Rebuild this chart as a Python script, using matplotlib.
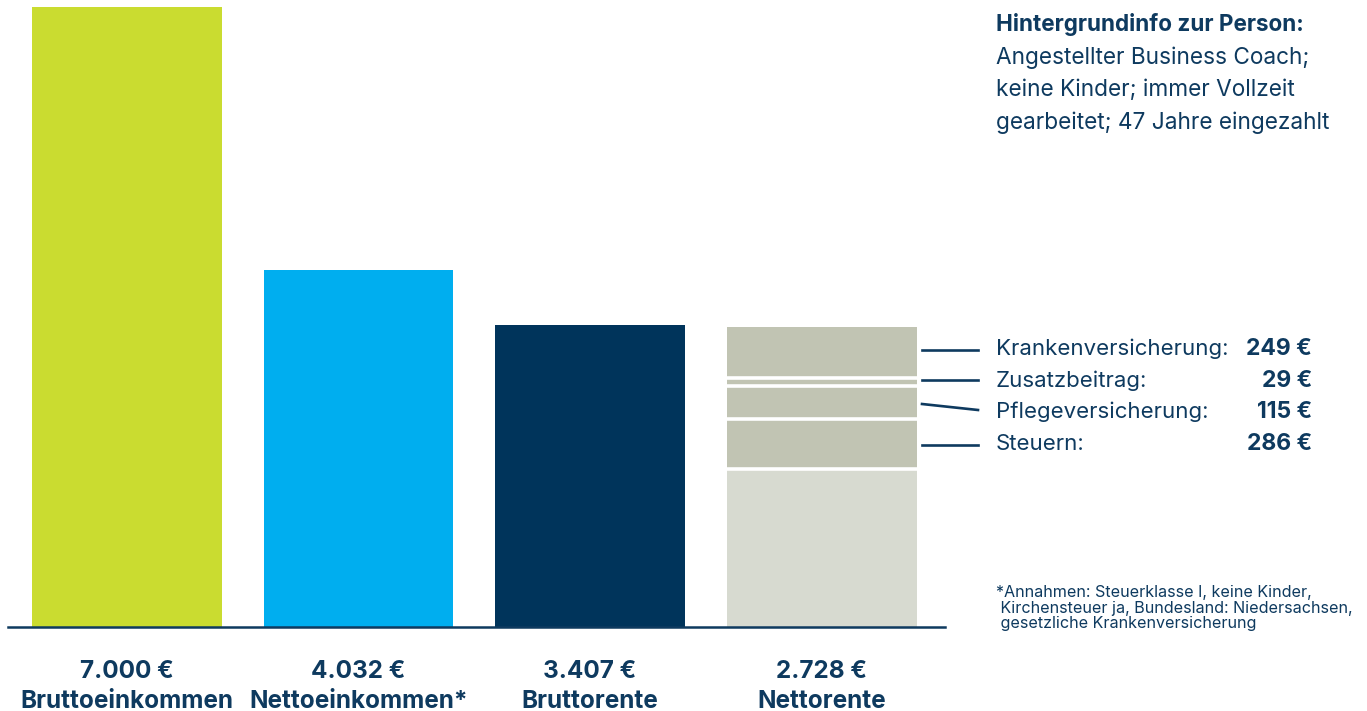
import matplotlib
matplotlib.use("Agg")
import matplotlib.pyplot as plt
import numpy as np

plt.rcParams['font.family'] = ['Inter', 'DejaVu Sans']

# ---- data ----
categories = ["Bruttoeinkommen", "Nettoeinkommen*", "Bruttorente", "Nettorente"]
values = [7000, 4032, 3407, 2728]
value_labels = ["7.000 €", "4.032 €", "3.407 €", "2.728 €"]

# Deductions from Bruttorente to Nettorente (labels on the right)
deduction_names = ["Krankenversicherung:", "Zusatzbeitrag:", "Pflegeversicherung:", "Steuern:"]
deduction_values = ["249 €", "29 €", "115 €", "286 €"]

# Visual stack of the last bar as drawn in the picture (bottom -> top, € scale)
stack_names = ["Nettorente", "Steuern", "Pflegeversicherung", "Zusatzbeitrag", "Krankenversicherung"]
stack_heights = [1782, 567, 373, 88, 575]

info_title = "Hintergrundinfo zur Person:"
info_lines = ["Angestellter Business Coach;", "keine Kinder; immer Vollzeit", "gearbeitet; 47 Jahre eingezahlt"]
footnote_lines = ["*Annahmen: Steuerklasse I, keine Kinder,",
                  " Kirchensteuer ja, Bundesland: Niedersachsen,",
                  " gesetzliche Krankenversicherung"]

# ---- styles ----
NAVY = "#0E3A5F"
bar_colors = ["#CADC30", "#00AEEF", "#00345B"]
netto_color = "#D7DAD0"
deduct_color = "#C1C4B3"

W, H = 1367, 711
fig = plt.figure(figsize=(W / 100, H / 100), dpi=100)

def fx(px):
    return px / W

def fy(py):
    return 1 - py / H

# axes: x from 8px to 945px, y baseline at 627px, 7000 at 7px
ax = fig.add_axes([fx(8), fy(627), fx(945) - fx(8), (627 - 7) / H])
ax.set_xlim(-0.514, 3.533)
ax.set_ylim(0, 7000)
bar_w = 0.82

x = np.arange(len(categories))
ax.bar(x[:3], values[:3], width=bar_w, color=bar_colors, zorder=2)

bottom = 0
seg_colors = [netto_color] + [deduct_color] * 4
for h, c in zip(stack_heights, seg_colors):
    ax.bar(x[3], h, bottom=bottom, width=bar_w, color=c, zorder=2)
    bottom += h
# white separators between stacked segments
bounds = np.cumsum(stack_heights)[:-1]
ax.hlines(bounds, x[3] - bar_w / 2 - 0.01, x[3] + bar_w / 2 + 0.01,
          colors="white", linewidth=2.6, zorder=3)

for s in ["top", "right", "left"]:
    ax.spines[s].set_visible(False)
ax.spines["bottom"].set_color(NAVY)
ax.spines["bottom"].set_linewidth(1.8)
ax.spines["bottom"].set_zorder(4)
ax.set_xticks([])
ax.set_yticks([])
ax.patch.set_alpha(0)

# labels below bars
for i, (vl, cat) in enumerate(zip(value_labels, categories)):
    xpix = ax.transData.transform((x[i], 0))[0]
    fig.text(xpix / W, fy(672), vl, ha="center", va="center", fontsize=17.5,
             fontweight="bold", color=NAVY)
    fig.text(xpix / W, fy(702), cat, ha="center", va="center", fontsize=17.5,
             fontweight="bold", color=NAVY)

# info block
fig.text(fx(996), fy(25), info_title, ha="left", va="center", fontsize=16.2,
         fontweight="bold", color=NAVY)
for i, line in enumerate(info_lines):
    fig.text(fx(996), fy(58 + i * 32.3), line, ha="left", va="center",
             fontsize=16.3, color=NAVY)

# deductions legend
label_y = [349, 381, 412, 444]
line_y = [(350, 350), (380, 380), (404, 410), (445, 445)]
for name, val, ly, (y0, y1) in zip(deduction_names, deduction_values, label_y, line_y):
    fig.text(fx(996), fy(ly), name, ha="left", va="center", fontsize=16, color=NAVY)
    fig.text(fx(1312), fy(ly), val, ha="right", va="center", fontsize=16.5,
             fontweight="bold", color=NAVY)
    fig.add_artist(plt.Line2D([fx(922), fx(978)], [fy(y0), fy(y1)], color=NAVY,
                              linewidth=1.9, transform=fig.transFigure))

# footnote
for i, line in enumerate(footnote_lines):
    fig.text(fx(996), fy(592.5 + i * 15.6), line, ha="left", va="center",
             fontsize=11.6, color=NAVY)

fig.savefig("out.png", dpi=100)
